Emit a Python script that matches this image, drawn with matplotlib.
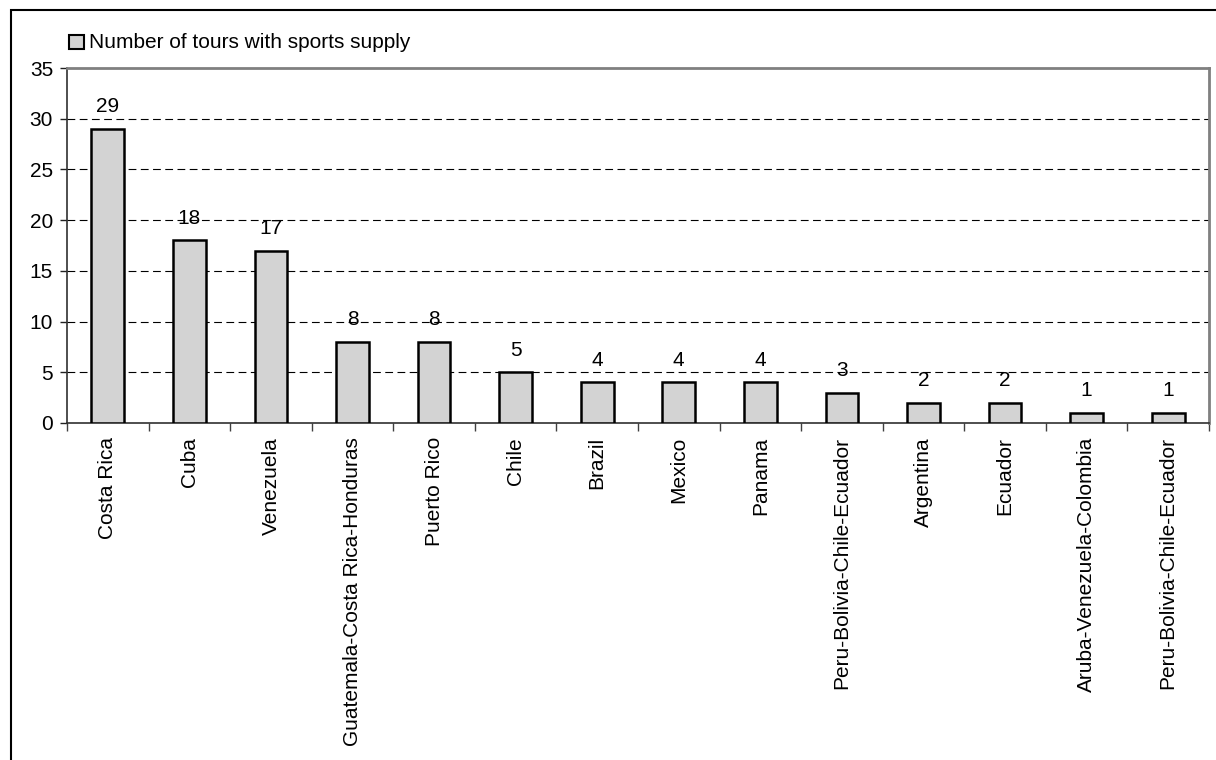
import matplotlib
matplotlib.use("Agg")
import matplotlib.pyplot as plt
from matplotlib.patches import Rectangle

plt.rcParams['font.family'] = ['Liberation Sans', 'DejaVu Sans']

categories = ["Costa Rica", "Cuba", "Venezuela", "Guatemala-Costa Rica-Honduras",
              "Puerto Rico", "Chile", "Brazil", "Mexico", "Panama",
              "Peru-Bolivia-Chile-Ecuador", "Argentina", "Ecuador",
              "Aruba-Venezuela-Colombia", "Peru-Bolivia-Chile-Ecuador"]
values = [29, 18, 17, 8, 8, 5, 4, 4, 4, 3, 2, 2, 1, 1]
series_name = "Number of tours with sports supply"
yticks = [0, 5, 10, 15, 20, 25, 30, 35]

FS = 15
W, H = 1216, 760
fig = plt.figure(figsize=(W/100, H/100), dpi=100)
ax = fig.add_axes([67/W, 1-423/H, (1209-67)/W, (423-68)/H])

x = list(range(len(categories)))
ax.bar(x, values, width=0.4, color="#D3D3D3", edgecolor="black", linewidth=1.8, zorder=3)

for xi, v in zip(x, values):
    ax.annotate(str(v), (xi, v), xytext=(0, 12), textcoords="offset points",
                ha="center", va="baseline", fontsize=FS)

ax.set_xlim(-0.5, len(categories)-0.5)
ax.set_ylim(0, 35)
ax.set_yticks(yticks)
ax.set_yticklabels([str(t) for t in yticks], fontsize=FS)
for t in yticks[1:-1]:
    ax.axhline(t, color="black", linestyle=(0, (7, 4)), linewidth=0.8, zorder=1)

ax.set_xticks(x)
ax.set_xticklabels(categories, rotation=90, fontsize=FS, va="top", ha="center")
ax.tick_params(axis="x", length=0, pad=10)
ax.set_xticks([i - 0.5 for i in range(len(categories)+1)], minor=True)
ax.tick_params(axis="x", which="minor", length=6, color="#404040", width=1)
ax.tick_params(axis="y", length=5, color="#202020", width=1, pad=5)

for s in ["top", "right"]:
    ax.spines[s].set_color("#808080")
    ax.spines[s].set_linewidth(2)
for s in ["left", "bottom"]:
    ax.spines[s].set_color("#303030")
    ax.spines[s].set_linewidth(1.2)

# legend
fig.patches.append(Rectangle((69/W, 1-49/H), 15/W, 14/H, transform=fig.transFigure,
                             facecolor="#D3D3D3", edgecolor="black", linewidth=1.5))
fig.text(89/W, 1-42/H, series_name, fontsize=FS, va="center", ha="left")

# outer border
fig.patches.append(Rectangle((11/W, -0.1), 1.2, 1-10/H+0.1, transform=fig.transFigure,
                             facecolor="none", edgecolor="black", linewidth=1.5))

fig.savefig("out.png", dpi=100)
